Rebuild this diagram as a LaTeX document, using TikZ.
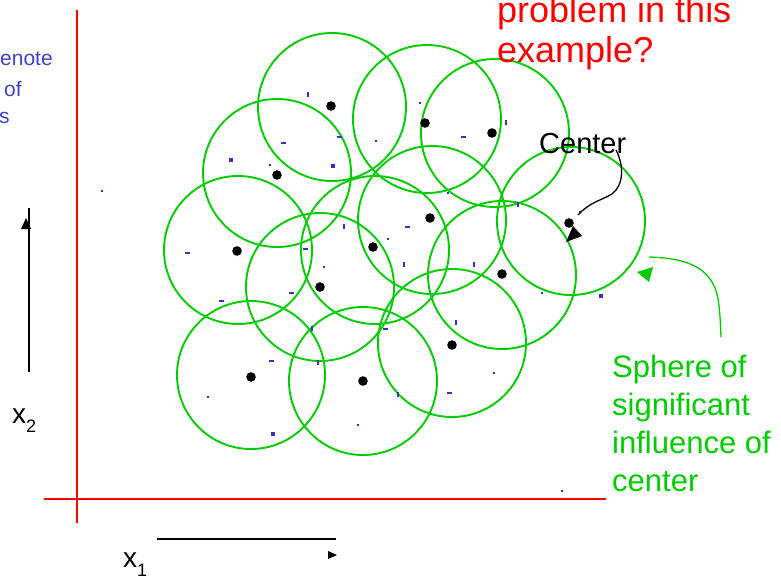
\documentclass[tikz,border=0pt]{standalone}
\usepackage{fontspec}
\setmainfont{Liberation Sans}
\definecolor{ggreen}{RGB}{0,204,0}
\definecolor{dgreen}{RGB}{0,128,0}
\definecolor{bmark}{RGB}{51,51,204}
\definecolor{btext}{RGB}{64,64,204}
\tikzset{
  sphere/.style={draw=ggreen, line width=1.9pt},
  cdot/.style={fill=black},
  axisline/.style={draw=red, line width=2.2pt},
  txt/.style={inner sep=0pt, anchor=base west},
  blackline/.style={draw=black, line width=2.2pt},
}
\newcommand{\bhm}[2]{\fill[bmark] (#1-2.5,#2-1) rectangle (#1+2.5,#2+1);}
\newcommand{\bvm}[2]{\fill[bmark] (#1-1,#2-2.5) rectangle (#1+1,#2+2.5);}
\newcommand{\bsq}[2]{\fill[bmark] (#1-2,#2-2) rectangle (#1+2,#2+2);}
\newcommand{\bsm}[2]{\fill[bmark] (#1-1,#2-1) rectangle (#1+1,#2+1);}
\begin{document}
\begin{tikzpicture}[x=1pt,y=-1pt]
\useasboundingbox (0,0) rectangle (781,576);
% axes
\draw[axisline] (77,10) -- (77,523);
\draw[axisline] (44,499) -- (606,499);
% spheres
\foreach \cx/\cy in {332/107,427/119,495/133,277/173,432/220,571/221,238/250,375/250,320/287,502/275,251/375,363/381,452/343}
  \draw[sphere] (\cx,\cy) circle (74);
% data marks
\foreach \a/\b in {283/143,339/137,187/253,305/249,291/293,221/301,271/361,385/329,449/393,463/137,407/227} {\bhm{\a}{\b}}
\foreach \a/\b in {308/94,344/226,312/328,318/362,456/322,398/394,506/122,518/204,404/264,474/264} {\bvm{\a}{\b}}
\foreach \a/\b in {231/160,333/166,273/434,601/296} {\bsq{\a}{\b}}
\foreach \a/\b in {270/165,376/141,388/239,324/267,542/293,208/397,358/425,494/373,420/103,448/193,102/191,562/491,580/212} {\bsm{\a}{\b}}
% centers
\foreach \cx/\cy in {331/106,425/123,492/133,277/175,237/251,430/218,373/247,320/287,502/274,452/345,251/377,363/381}
  \fill[cdot] (\cx,\cy) circle (4.8);
\coordinate (cen) at (569,223);
\fill[cdot] (cen) circle (4.8);
% axis arrows
\coordinate (v1) at (29,372);
\coordinate (v2) at (29,208);
\draw[blackline] (v1) -- (v2);
\fill (21,229) -- (31,229) -- (26,218) -- cycle;
\coordinate (h1) at (157,539);
\coordinate (h2) at (336,539);
\draw[blackline, line width=2pt] (h1) -- (h2);
\fill (328,551) -- (337,555) -- (328,559) -- cycle;
% labels
\node[txt, font=\fontsize{28}{30}\selectfont] (x2) at (12,423) {x\raisebox{-9pt}{\fontsize{18}{18}\selectfont 2}};
\node[txt, font=\fontsize{28}{30}\selectfont] (x1) at (123,567) {x\raisebox{-9pt}{\fontsize{18}{18}\selectfont 1}};
% cut-off title letter
\node[txt, text=dgreen, font=\fontsize{36}{40}\selectfont] (tg) at (271,-9) {g};
% blue left text
\node[txt, text=btext, font=\fontsize{21}{24}\selectfont] (b1) at (0,65) {enote};
\node[txt, text=btext, font=\fontsize{21}{24}\selectfont] (b2) at (4,96) {of};
\node[txt, text=btext, font=\fontsize{21}{24}\selectfont] (b3) at (-1,123) {s};
% red question
\node[txt, text=red, font=\fontsize{36}{40}\selectfont] (q1) at (497,22) {problem in this};
\node[txt, text=red, font=\fontsize{36}{40}\selectfont] (q2) at (497,62) {example?};
% Center label and arrow
\node[txt, font=\fontsize{29}{32}\selectfont] (clab) at (539,153) {Center};
\coordinate (cs) at (616,150);
\coordinate (ce) at (578,215);
\draw[black, line width=1.3pt] (cs) .. controls (624,165) and (624,185) .. (612,194) .. controls (600,201) and (590,202) .. (ce);
\fill (566,242) -- (582,236) -- (573,226) -- cycle;
% Sphere label and arrow
\node[txt, text=ggreen, font=\fontsize{31}{38}\selectfont] (s1) at (612,377) {Sphere of};
\node[txt, text=ggreen, font=\fontsize{31}{38}\selectfont] (s2) at (612,415) {significant};
\node[txt, text=ggreen, font=\fontsize{31}{38}\selectfont] (s3) at (612,453) {influence of};
\node[txt, text=ggreen, font=\fontsize{31}{38}\selectfont] (s4) at (612,491) {center};
\coordinate (gs) at (721,337);
\coordinate (ge) at (649,257);
\draw[ggreen, line width=1.3pt] (gs) .. controls (720,312) and (719,298) .. (715,288) .. controls (705,264) and (680,258) .. (ge);
\fill[ggreen] (637,272) -- (653,267) -- (649,282) -- cycle;
\end{tikzpicture}
\end{document}
